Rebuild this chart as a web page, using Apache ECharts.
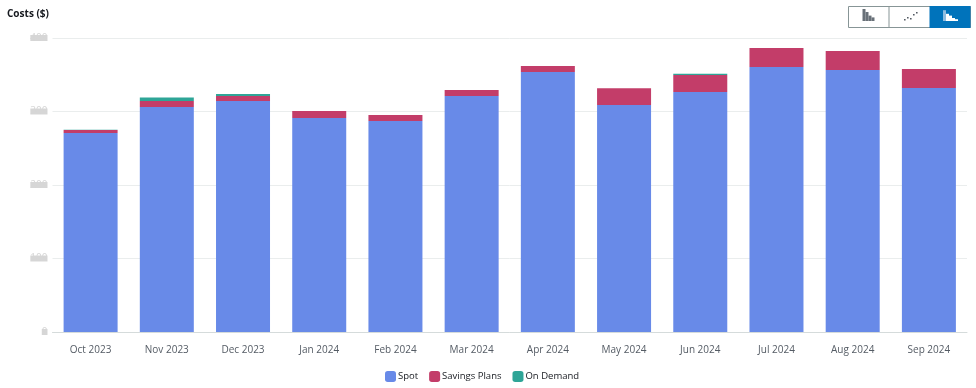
<!DOCTYPE html>
<html><head><meta charset="utf-8">
<style>html,body{margin:0;padding:0;background:#fff}#c{width:976px;height:388px}</style>
<script src="https://cdn.jsdelivr.net/npm/echarts@6/dist/echarts.min.js"></script>
</head><body><div id="c"></div>
<script>
const categories=['Oct 2023','Nov 2023','Dec 2023','Jan 2024','Feb 2024','Mar 2024','Apr 2024','May 2024','Jun 2024','Jul 2024','Aug 2024','Sep 2024'];
const spot=[270.7,306.1,314.3,291.2,287.1,321.1,353.7,308.8,326.5,360.5,356.5,332];
const savingsPlans=[4,8.2,6.8,9.5,8.2,8.2,8.2,23,23,25.9,25.9,25.9];
const onDemand=[0.5,4.8,2.7,0,0,0,0,0,2,0,0,0];
const chart=echarts.init(document.getElementById('c'),null,{renderer:'canvas'});
const F='"Open Sans","Noto Sans",sans-serif';
function bar(name,data,color){return {name,type:'bar',stack:'c',data,barWidth:54,itemStyle:{color}};}
function r(x,y,w,h,fill,stroke){return {type:'rect',shape:{x,y,width:w,height:h},style:{fill,stroke:stroke||null,lineWidth:stroke?1:0}};}
const icons=[];
[[863,1.0],[866,0.75],[869,0.45],[872,0.3]].forEach(a=>icons.push(r(a[0]-0.5,21-12*a[1],3,12*a[1],'#687078')));
[[904,19],[907,17],[910,18],[913,14],[916,12]].forEach(a=>icons.push(r(a[0],a[1],1.6,1.6,'#545b64')));
[[943,0.9,'#8fbde0'],[946,0.6,'#fff'],[949,0.45,'#fff'],[952,0.25,'#fff'],[955,0.15,'#fff']].forEach(a=>icons.push(r(a[0],21-12*a[1],3,12*a[1],a[2])));
chart.setOption({
  animation:false,
  textStyle:{fontFamily:F},
  grid:{left:52.5,right:9,top:38,bottom:56,containLabel:false},
  title:{text:'Costs ($)',left:2,top:4,textStyle:{fontSize:10,fontWeight:'bold',color:'#16191f',fontFamily:F}},
  legend:{top:371,left:385,padding:0,itemWidth:11,itemHeight:11,itemGap:11,icon:'roundRect',
    textStyle:{fontSize:9.5,color:'#16191f',padding:[0,0,0,-3]},data:['Spot','Savings Plans','On Demand']},
  xAxis:{type:'category',data:categories,
    axisLine:{lineStyle:{color:'#d5dbdb',width:1}},
    axisTick:{alignWithLabel:true,length:3,lineStyle:{color:'#d5dbdb'}},
    axisLabel:{fontSize:10,color:'#545b64',margin:13,interval:0}},
  yAxis:{type:'value',min:0,max:400,interval:100,
    axisLine:{show:false},axisTick:{show:false},
    splitLine:{lineStyle:{color:'#eaeded',width:1}},
    axisLabel:{fontSize:10,lineHeight:6,margin:5,color:'#d6d6d6',backgroundColor:'#d6d6d6'}},
  series:[bar('Spot',spot,'#688ae8'),bar('Savings Plans',savingsPlans,'#c33d69'),bar('On Demand',onDemand,'#2ea597')],
  graphic:[
    r(848.5,6.5,122,21,'#fff','#879596'),
    {type:'line',shape:{x1:889,y1:6,x2:889,y2:28},style:{stroke:'#879596',lineWidth:1}},
    r(929.5,6,41,22,'#0073bb'),
    ...icons
  ]
});
</script></body></html>
